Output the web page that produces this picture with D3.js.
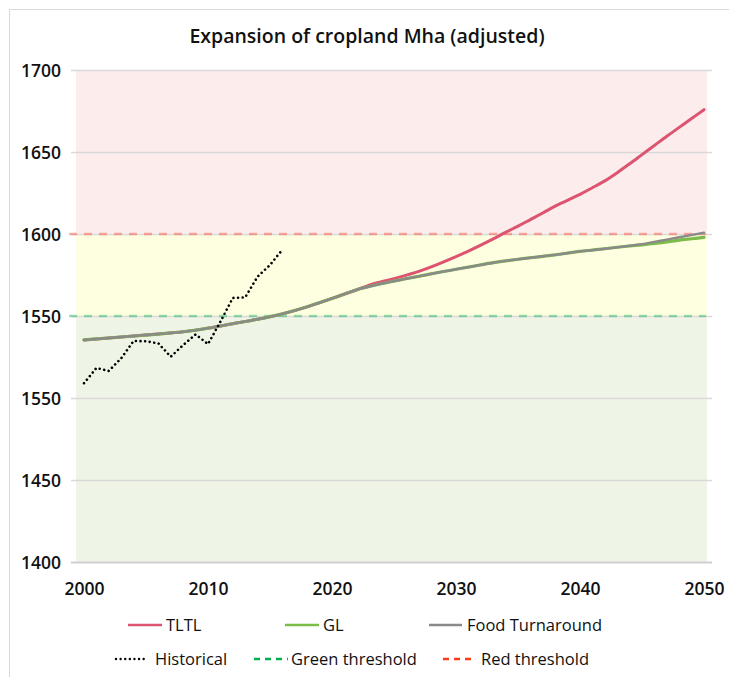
<!DOCTYPE html>
<html>
<head>
<meta charset="utf-8">
<script src="https://cdn.jsdelivr.net/npm/d3@7"></script>
<style>
  html, body { margin: 0; padding: 0; background: #ffffff; }
  svg { display: block; font-family: "Open Sans", "Noto Sans", sans-serif; }
</style>
</head>
<body>
<svg id="chart" width="729" height="677"></svg>
<script>
// ---- data ----
const title = "Expansion of cropland Mha (adjusted)";

const xTickValues = [2000, 2010, 2020, 2030, 2040, 2050];
const yTickValues = [1400, 1450, 1500, 1550, 1600, 1650, 1700];
const yTickLabels = ["1400", "1450", "1550", "1550", "1600", "1650", "1700"];

const scenarioYears = [2000, 2002, 2004, 2006, 2008, 2010, 2012, 2014, 2016, 2018, 2020, 2022,
  2023, 2025, 2027, 2030, 2031, 2032, 2033, 2034, 2035, 2036, 2037, 2038, 2040, 2041, 2042,
  2043, 2044, 2045, 2046, 2047, 2048, 2049, 2050];

const tltl = [1535.4, 1536.6, 1537.8, 1539.0, 1540.4, 1542.6, 1545.3, 1548.0, 1551.3, 1555.6, 1560.7, 1566.0,
  1568.8, 1572.8, 1577.2, 1586.2, 1589.6, 1593.2, 1597.0, 1601.0, 1604.8, 1608.8, 1612.8, 1617.0, 1624.2, 1628.2, 1632.4,
  1637.4, 1642.8, 1648.4, 1654.0, 1659.6, 1665.0, 1670.4, 1675.8];

const gl = [1535.4, 1536.6, 1537.8, 1539.0, 1540.4, 1542.6, 1545.3, 1548.0, 1551.3, 1555.6, 1560.7, 1566.0,
  1568.0, 1571.3, 1574.2, 1578.5, 1579.8, 1581.2, 1582.5, 1583.6, 1584.6, 1585.5, 1586.4, 1587.3, 1589.4, 1590.2, 1591.0,
  1591.9, 1592.7, 1593.4, 1594.2, 1595.2, 1596.3, 1597.1, 1597.9];

const foodTurnaround = [1535.4, 1536.6, 1537.8, 1539.0, 1540.4, 1542.6, 1545.3, 1548.0, 1551.3, 1555.6, 1560.7, 1566.0,
  1568.0, 1571.3, 1574.2, 1578.5, 1579.8, 1581.2, 1582.5, 1583.6, 1584.6, 1585.5, 1586.4, 1587.3, 1589.4, 1590.2, 1591.0,
  1591.9, 1592.8, 1593.8, 1595.2, 1596.6, 1598.0, 1599.4, 1600.8];

const historicalYears = [2000, 2001, 2002, 2003, 2004, 2005, 2006, 2007, 2008, 2009, 2010, 2011, 2012, 2013, 2014, 2015, 2016];
const historical = [1509.0, 1518.3, 1516.5, 1524.2, 1534.8, 1534.6, 1533.3, 1525.2, 1532.3, 1538.8, 1532.9, 1546.5, 1561.0, 1561.4, 1574.0, 1581.1, 1590.5];

const greenThreshold = 1550;
const redThreshold = 1600;

// background zones: boundaries and fills
const zoneBounds = [1400, 1550, 1600, 1700];
const zoneFills = ["#eff5e6", "#fefee0", "#fcecec"];

// ---- layout ----
const svg = d3.select("#chart");
const x = d3.scaleLinear().domain([2000, 2050]).range([84, 704]);
const y = d3.scaleLinear().domain([1400, 1700]).range([562, 70]);

// outer frame
svg.append("path")
  .attr("d", "M9.5,677 L9.5,9.5 L729,9.5")
  .attr("fill", "none").attr("stroke", "#d9d9d9").attr("stroke-width", 1);

// title
svg.append("text")
  .attr("x", 367).attr("y", 43)
  .attr("text-anchor", "middle")
  .attr("font-size", 19.5).attr("font-weight", 600).attr("fill", "#111")
  .text(title);

// zones
const bandLeft = x(2000) - 8, bandRight = x(2050) + 3;
svg.append("g").selectAll("rect")
  .data(zoneFills)
  .join("rect")
  .attr("x", bandLeft)
  .attr("width", bandRight - bandLeft)
  .attr("y", (d, i) => y(zoneBounds[i + 1]))
  .attr("height", (d, i) => y(zoneBounds[i]) - y(zoneBounds[i + 1]))
  .attr("fill", d => d);

// gridlines + y labels
const yAxis = d3.axisLeft(y)
  .tickValues(yTickValues)
  .tickSize(-(712 - 71))
  .tickFormat((d, i) => yTickLabels[i]);
const gy = svg.append("g").attr("transform", "translate(71,0)").call(yAxis);
gy.select(".domain").remove();
gy.selectAll(".tick line").attr("stroke", "#d9d9d9").attr("stroke-width", 1.3);
gy.selectAll(".tick text")
  .attr("x", -10).attr("dy", "0.36em")
  .attr("font-size", 17.5).attr("font-weight", 600).attr("fill", "#111")
  .attr("font-family", "'Open Sans', sans-serif");
gy.selectAll(".tick").filter(d => d === 1400).select("line").attr("stroke", "#d0d0d0").attr("stroke-width", 2);

// x axis labels
const xAxis = d3.axisBottom(x).tickValues(xTickValues).tickSize(0).tickFormat(d3.format("d"));
const gx = svg.append("g").attr("transform", "translate(0,562)").call(xAxis);
gx.select(".domain").remove();
gx.selectAll(".tick text")
  .attr("y", 33).attr("dy", 0)
  .attr("font-size", 17.5).attr("font-weight", 600).attr("fill", "#111")
  .attr("font-family", "'Open Sans', sans-serif");

// threshold lines
const thresholds = [
  { v: greenThreshold, c: "#00b050" },
  { v: redThreshold, c: "#ff3b1f" }
];
svg.append("g").selectAll("line")
  .data(thresholds)
  .join("line")
  .attr("x1", 69).attr("x2", 706)
  .attr("y1", d => y(d.v)).attr("y2", d => y(d.v))
  .attr("stroke", d => d.c)
  .attr("stroke-opacity", 0.4)
  .attr("stroke-width", 2.5)
  .attr("stroke-dasharray", "8,7");

// scenario lines
const line = d3.line()
  .x(d => x(d[0]))
  .y(d => y(d[1]))
  .curve(d3.curveMonotoneX);

const series = [
  { vals: tltl, c: "#dc5470", w: 3 },
  { vals: gl, c: "#7cbc4a", w: 3.2 },
  { vals: foodTurnaround, c: "#8a8a8a", w: 2.4 }
];
svg.append("g").selectAll("path")
  .data(series)
  .join("path")
  .attr("d", s => line(scenarioYears.map((yr, i) => [yr, s.vals[i]])))
  .attr("fill", "none")
  .attr("stroke", s => s.c)
  .attr("stroke-width", s => s.w)
  .attr("stroke-linecap", "round");

// historical dotted line
svg.append("path")
  .attr("d", d3.line().x(d => x(d[0])).y(d => y(d[1]))(historicalYears.map((yr, i) => [yr, historical[i]])))
  .attr("fill", "none")
  .attr("stroke", "#000")
  .attr("stroke-width", 2.6)
  .attr("stroke-linecap", "round")
  .attr("stroke-dasharray", "0.01,4.6");

// legend
const legendItems = [
  { label: "TLTL", c: "#dc5470", dash: null, x1: 128, x2: 162, tx: 166, row: 625 },
  { label: "GL", c: "#7cbc4a", dash: null, x1: 285, x2: 319, tx: 323, row: 625 },
  { label: "Food Turnaround", c: "#8a8a8a", dash: null, x1: 429, x2: 462, tx: 467, row: 625 },
  { label: "Historical", c: "#000", dash: "0.01,4.6", x1: 116, x2: 146, tx: 155, row: 659 },
  { label: "Green threshold", c: "#00b050", dash: "6,5", x1: 254, x2: 288, tx: 291, row: 659 },
  { label: "Red threshold", c: "#ff3b1f", dash: "6,5", x1: 443, x2: 476, tx: 481, row: 659 }
];
const lg = svg.append("g").selectAll("g").data(legendItems).join("g");
lg.append("line")
  .attr("x1", d => d.x1).attr("x2", d => d.x2)
  .attr("y1", d => d.row).attr("y2", d => d.row)
  .attr("stroke", d => d.c)
  .attr("stroke-width", d => d.dash === "0.01,4.6" ? 2.4 : 2.6)
  .attr("stroke-linecap", d => d.dash === "0.01,4.6" ? "round" : "butt")
  .attr("stroke-dasharray", d => d.dash);
lg.append("text")
  .attr("x", d => d.tx).attr("y", d => d.row + 6)
  .attr("font-size", 16.5).attr("font-weight", 500).attr("fill", "#111")
  .text(d => d.label);
</script>
</body>
</html>
